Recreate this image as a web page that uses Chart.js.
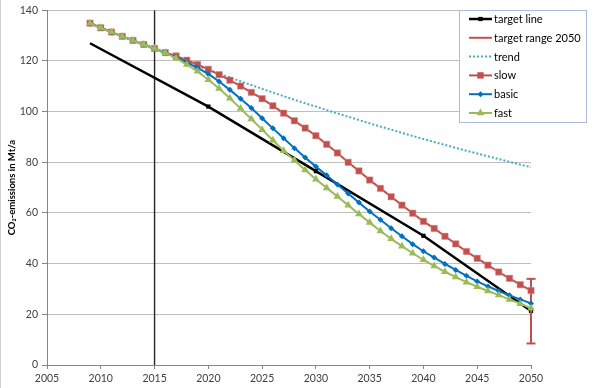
<!DOCTYPE html>
<html>
<head>
<meta charset="utf-8">
<script src="https://cdn.jsdelivr.net/npm/chart.js@4.4.1/dist/chart.umd.min.js"></script>
<style>
  html, body { margin: 0; padding: 0; background: #fff; }
  #wrap { position: relative; width: 600px; height: 388px; }
</style>
</head>
<body>
<div id="wrap"><canvas id="co2-chart" width="600" height="388"></canvas></div>
<script>
// yearly scenario values, 2009..2050
const years = [2009, 2010, 2011, 2012, 2013, 2014, 2015, 2016, 2017, 2018, 2019, 2020, 2021, 2022,
    2023, 2024, 2025, 2026, 2027, 2028, 2029, 2030, 2031, 2032, 2033, 2034, 2035, 2036,
    2037, 2038, 2039, 2040, 2041, 2042, 2043, 2044, 2045, 2046, 2047, 2048, 2049, 2050];

const slow = [134.9, 133.1, 131.4, 129.7, 128.1, 126.5, 124.9, 123.3, 122.0, 120.3, 118.6, 116.7,
    114.6, 112.4, 110.1, 107.6, 105.1, 102.3, 99.4, 96.4, 93.5, 90.5, 87.1, 83.7, 80.0, 76.6,
    73.0, 69.7, 66.4, 63.1, 59.9, 56.7, 53.9, 50.8, 47.8, 44.8, 42.1, 39.4, 36.7, 34.2, 31.7, 29.4];

const basic = [134.9, 133.1, 131.4, 129.7, 128.1, 126.5, 124.9, 123.3, 121.5, 119.4, 117.3, 114.9,
    111.9, 108.6, 105.1, 101.4, 97.4, 93.4, 89.5, 85.6, 81.9, 78.3, 74.9, 71.2, 67.7, 64.1,
    60.6, 57.3, 54.0, 50.8, 47.7, 44.9, 42.4, 39.9, 37.5, 35.2, 33.0, 31.0, 29.2, 27.5, 25.9, 24.3];

const fast = [134.9, 133.1, 131.4, 129.7, 128.1, 126.5, 124.9, 123.2, 121.1, 118.6, 115.9, 112.6,
    109.1, 105.3, 101.2, 97.1, 92.9, 88.7, 84.6, 80.8, 77.0, 73.3, 69.9, 66.5, 63.1, 59.6,
    56.2, 52.9, 49.8, 46.9, 44.1, 41.5, 39.1, 36.8, 34.7, 32.7, 30.9, 29.2, 27.6, 25.9, 24.2, 22.4];

const trend = [135.0, 133.2, 131.4, 129.7, 128.0, 126.3, 124.6, 122.9, 121.3, 119.7, 118.1, 116.5,
    115.0, 113.5, 112.0, 110.5, 109.0, 107.6, 106.1, 104.7, 103.3, 102.0, 100.6, 99.3, 98.0, 96.7,
    95.4, 94.1, 92.9, 91.6, 90.4, 89.2, 88.0, 86.9, 85.7, 84.6, 83.5, 82.4, 81.3, 80.2, 79.1, 78.1];

// target line and the 2050 range
const targetYears = [2009, 2020, 2030, 2040, 2050];
const targetValues = [127, 102, 76.5, 51, 21.3];
const rangeYear = 2050;
const rangeLow = 8.5;
const rangeHigh = 34;

// vertical marker at "today"
const markerYear = 2015;

// axis settings
const xMin = 2005, xMax = 2050, xStep = 5;
const yMin = 0, yMax = 140, yStep = 20;

const toPoints = (xs, ys) => xs.map((x, i) => ({ x: x, y: ys[i] }));

Chart.defaults.font.family = 'Lato, "Open Sans", sans-serif';
Chart.defaults.color = '#404040';

// legend box drawn inside the plot, top right
const boxLegend = {
    id: 'boxLegend',
    beforeDraw(chart) {
        // thin frame line on the left edge
        const ctx = chart.ctx;
        ctx.save();
        ctx.strokeStyle = '#d0d0d0';
        ctx.lineWidth = 1;
        ctx.beginPath();
        ctx.moveTo(0.5, 0);
        ctx.lineTo(0.5, chart.height);
        ctx.stroke();
        ctx.restore();
    },
    afterDraw(chart) {
        const ctx = chart.ctx;
        const items = chart.data.datasets.filter(d => d.label);
        ctx.save();
        ctx.fillStyle = '#fff';
        ctx.fillRect(459, 10, 127, 112);
        ctx.strokeStyle = '#a7bfdc';
        ctx.lineWidth = 1;
        ctx.strokeRect(459.5, 10.5, 127, 112);
        ctx.font = '11px Lato, "Open Sans", sans-serif';
        ctx.textBaseline = 'middle';
        items.forEach((d, i) => {
            const y = 19 + i * 18.8;
            ctx.strokeStyle = d.borderColor;
            ctx.lineWidth = d.borderWidth;
            ctx.setLineDash(d.borderDash || []);
            ctx.beginPath();
            ctx.moveTo(469, y);
            ctx.lineTo(492, y);
            ctx.stroke();
            ctx.setLineDash([]);
            if (d.legendRadius) {
                ctx.fillStyle = d.pointBackgroundColor;
                Chart.helpers.drawPoint(ctx, {
                    pointStyle: d.pointStyle, radius: d.legendRadius, borderWidth: 0, rotation: 0
                }, 480.5, y);
            }
            ctx.fillStyle = '#000';
            ctx.fillText(d.label, 494, y + 0.5);
        });
        ctx.restore();
    }
};

const ctx = document.getElementById('co2-chart').getContext('2d');
window.co2Chart = new Chart(ctx, {
    type: 'line',
    data: {
        datasets: [
            {
                label: 'target line',
                data: toPoints(targetYears, targetValues),
                borderColor: '#000',
                borderWidth: 2.5,
                pointStyle: 'rect',
                pointRadius: [0, 3, 3, 3, 3],
                pointBackgroundColor: '#000',
                pointBorderWidth: 0,
                legendRadius: 3,
                clip: false,
                order: 6
            },
            {
                label: 'target range 2050',
                data: [{ x: rangeYear, y: rangeLow }, { x: rangeYear, y: rangeHigh }],
                borderColor: '#c0504d',
                borderWidth: 2,
                pointStyle: 'line',
                pointRadius: 4.5,
                pointBorderColor: '#c0504d',
                pointBorderWidth: 2,
                clip: false,
                order: 5
            },
            {
                label: 'trend',
                data: toPoints(years, trend),
                borderColor: '#4bacc6',
                borderWidth: 2,
                borderDash: [2, 2],
                pointRadius: 0,
                clip: false,
                order: 4
            },
            {
                label: 'slow',
                data: toPoints(years, slow),
                borderColor: '#c0504d',
                borderWidth: 2,
                pointStyle: 'rect',
                pointRadius: 4.5,
                pointBackgroundColor: '#c0504d',
                pointBorderColor: '#d98886',
                pointBorderWidth: 0.5,
                legendRadius: 4.5,
                clip: false,
                order: 3
            },
            {
                label: 'basic',
                data: toPoints(years, basic),
                borderColor: '#0070c0',
                borderWidth: 2,
                pointStyle: 'rectRot',
                pointRadius: 3,
                pointBackgroundColor: '#0070c0',
                pointBorderWidth: 0,
                legendRadius: 3,
                clip: false,
                order: 2
            },
            {
                label: 'fast',
                data: toPoints(years, fast),
                borderColor: '#9bbb59',
                borderWidth: 2,
                pointStyle: 'triangle',
                pointRadius: 4.5,
                pointBackgroundColor: '#9bbb59',
                pointBorderWidth: 0,
                legendRadius: 4.5,
                clip: false,
                order: 1
            },
            {
                data: [{ x: markerYear, y: yMin }, { x: markerYear, y: yMax }],
                borderColor: '#262626',
                borderWidth: 1.4,
                pointRadius: 0,
                order: 10
            }
        ]
    },
    options: {
        responsive: false,
        devicePixelRatio: 1,
        animation: false,
        events: [],
        layout: { padding: { top: 7, right: 69, left: 0, bottom: 0 } },
        plugins: {
            legend: { display: false },
            tooltip: { enabled: false }
        },
        scales: {
            x: {
                type: 'linear',
                min: xMin,
                max: xMax,
                afterFit: s => { s.height = 23; },
                ticks: {
                    stepSize: xStep,
                    padding: 3,
                    font: { size: 10.5 },
                    callback: v => String(v)
                },
                grid: { drawOnChartArea: false, tickLength: 4, tickColor: '#868686' },
                border: { color: '#868686', width: 1 }
            },
            y: {
                min: yMin,
                max: yMax,
                afterFit: s => { s.width = 47; },
                ticks: { stepSize: yStep, padding: 4, font: { size: 10.5 } },
                grid: { color: '#bfbfbf', tickLength: 5, tickColor: '#868686' },
                border: { color: '#868686', width: 1 },
                title: {
                    display: true,
                    text: 'CO₂-emissions in Mt/a',
                    color: '#000',
                    font: { size: 9.5, weight: 'bold' },
                    padding: { top: 6, bottom: 0 }
                }
            }
        }
    },
    plugins: [boxLegend]
});
</script>
</body>
</html>
